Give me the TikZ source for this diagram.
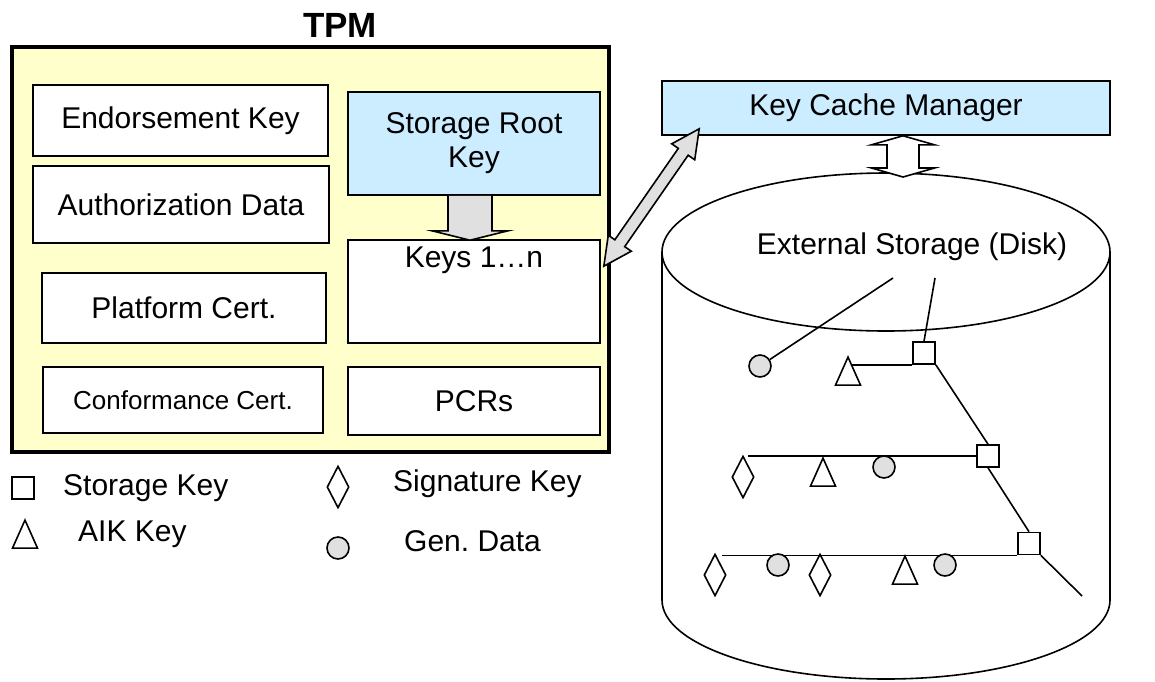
\documentclass[tikz,border=0pt]{standalone}
\usepackage{fontspec}
\setmainfont{Liberation Sans}
\usetikzlibrary{shapes.geometric,calc}
\pgfdeclarelayer{background}
\pgfsetlayers{background,main}
\frenchspacing

\definecolor{tpmyellow}{HTML}{FFFFCC}
\definecolor{keyblue}{HTML}{CCECFF}
\definecolor{shadegray}{HTML}{E0E0E0}

\tikzset{
  box/.style={draw, line width=1.6pt, fill=white, inner sep=0pt},
  bluebox/.style={box, fill=keyblue},
  blockarrow/.style={draw, line width=1.6pt, fill=shadegray, line join=miter},
  storekey/.style={draw, line width=1.6pt, fill=white, rectangle, minimum size=22, inner sep=0pt},
  aikkey/.style={draw, line width=1.6pt, fill=white, isosceles triangle, isosceles triangle stretches,
    shape border rotate=90, minimum width=25, minimum height=28, inner sep=0pt, anchor=apex},
  sigkey/.style={draw, line width=1.6pt, fill=white, diamond, minimum width=22, minimum height=42, inner sep=0pt},
  gendata/.style={draw, line width=1.6pt, fill=shadegray, circle, minimum size=22, inner sep=0pt},
  legend/.style={anchor=base west, inner sep=0pt},
  tree/.style={line width=1.6pt},
}

% arrow with a head on both ends: [extra style]{from}{to}{head length}{head half width}{shaft half width}
\newcommand{\dblarrow}[6][]{%
  \draw[blockarrow,#1] (#2) -- ($(#2)!#4!(#3)!#5!90:(#3)$) -- ($(#2)!#4!(#3)!#6!90:(#3)$)
    -- ($(#3)!#4!(#2)!#6!-90:(#2)$) -- ($(#3)!#4!(#2)!#5!-90:(#2)$) -- (#3)
    -- ($(#3)!#4!(#2)!#5!90:(#2)$) -- ($(#3)!#4!(#2)!#6!90:(#2)$)
    -- ($(#2)!#4!(#3)!#6!-90:(#3)$) -- ($(#2)!#4!(#3)!#5!-90:(#3)$) -- cycle;}

\begin{document}
\begin{tikzpicture}[x=1pt, y=-1pt, font=\fontsize{30}{34}\selectfont]
\useasboundingbox (0,0) rectangle (1155,681);
\begin{pgfonlayer}{background}
\fill[white] (0,0) rectangle (1155,681);
\end{pgfonlayer}

% TPM
\node[font=\bfseries\fontsize{35}{40}\selectfont] (tpmtitle) at (340,25) {TPM};
\node[draw, line width=3.5pt, fill=tpmyellow, minimum width=597, minimum height=405, inner sep=0pt] (tpm) at (310.5,249.5) {};

\node[box, minimum width=295, minimum height=71] (ek) at (180.5,120.5) {Endorsement Key};
\node[box, minimum width=296, minimum height=77] (ad) at (181,204.5) {Authorization Data};
\node[box, minimum width=284, minimum height=70] (pc) at (184,308) {Platform Cert.};
\node[box, minimum width=280, minimum height=66, font=\fontsize{26}{30}\selectfont] (cc) at (183,400) {Conformance Cert.};

\node[bluebox, minimum width=252, minimum height=103, align=center] (srk) at (474,143.5) {Storage Root\\Key};
\node[box, minimum width=252, minimum height=103,
  label={[anchor=north, inner sep=0pt, yshift=-7pt]north:Keys 1…n}] (keys) at (474,291.5) {};
\node[box, minimum width=252, minimum height=68] (pcrs) at (474,401) {PCRs};

% srk -> keys
\coordinate (srkout) at ($(srk.south)+(-4,0)$);
\coordinate (keysin) at ($(keys.north)+(-4,1)$);
\draw[blockarrow] ($(srkout)+(-22,0)$) -- ($(srkout)+(-22,35)$) -- ($(srkout)+(-38,35)$) -- (keysin)
  -- ($(srkout)+(38,35)$) -- ($(srkout)+(22,35)$) -- ($(srkout)+(22,0)$);

% key cache manager
\node[bluebox, minimum width=448, minimum height=54] (kcm) at (886,108) {Key Cache Manager};

% disk
\begin{pgfonlayer}{background}
\draw[line width=1.6pt, fill=white] (662,252) -- (662,600)
  arc[start angle=180, end angle=360, x radius=224pt, y radius=79pt] -- (1110,252)
  arc[start angle=0, end angle=180, x radius=224pt, y radius=79pt] -- cycle;
\draw[line width=1.6pt] (662,252) arc[start angle=180, end angle=360, x radius=224pt, y radius=79pt];
\end{pgfonlayer}
\node (disk) at (912,247) {External Storage (Disk)};

\coordinate (keysport) at ($(keys.north east)+(3,27)$);
\coordinate (kcmport) at ($(kcm.south west)+(38,-7)$);
\dblarrow{keysport}{kcmport}{28pt}{14pt}{6pt}

\coordinate (kcmlow) at ($(kcm.south)+(17,0)$);
\coordinate (disktop) at (903,177);
\dblarrow[fill=white]{kcmlow}{disktop}{9pt}{31.5pt}{16pt}

% key hierarchy
\coordinate (r1a) at (893,278);
\coordinate (r1b) at (935,278);
\coordinate (trunkend) at (1082,596);
\node[gendata] (c1) at (760,366) {};
\node[storekey] (sk1) at (924,353) {};
\node[aikkey] (t1) at (848,355) {};

\node[storekey] (sk2) at (988,456) {};
\node[sigkey] (d2) at (743,477) {};
\node[aikkey] (t2) at (823,456) {};
\node[gendata] (c2) at (884,467) {};

\node[storekey] (sk3) at (1029,543.5) {};
\node[sigkey] (d3a) at (715,575) {};
\node[gendata] (c3a) at (778,565) {};
\node[sigkey] (d3b) at (820,575) {};
\node[aikkey] (t3) at (905,554) {};
\node[gendata] (c3b) at (945,565) {};

\begin{pgfonlayer}{background}
\draw[tree] (r1a) -- (c1);
\draw[tree] (r1b) -- (sk1.north);
\draw[tree] (sk1.south west) -- (sk1.south west -| t1.apex);
\draw[tree] (sk1.south east) -- (sk2.north);
\draw[tree] (sk2.west) -- ($(sk2.west -| d2.north)+(5,0)$);
\draw[tree] (sk2.south) -- (sk3.north);
\draw[tree] (sk3.south west) -- ($(sk3.south west -| d3a.north)+(7,0)$);
\draw[tree] (sk3.south east) -- (trunkend);
\end{pgfonlayer}

% legend
\node[storekey] (lsk) at (23,488) {};
\node[legend] (lsktxt) at (63,495) {Storage Key};
\node[aikkey] (laik) at (25,518) {};
\node[legend] (laiktxt) at (78,541) {AIK Key};
\node[sigkey] (lsig) at (338,487) {};
\node[legend] (lsigtxt) at (393,491) {Signature Key};
\node[gendata] (lgd) at (338,548) {};
\node[legend] (lgdtxt) at (404,551) {Gen. Data};
\end{tikzpicture}
\end{document}
